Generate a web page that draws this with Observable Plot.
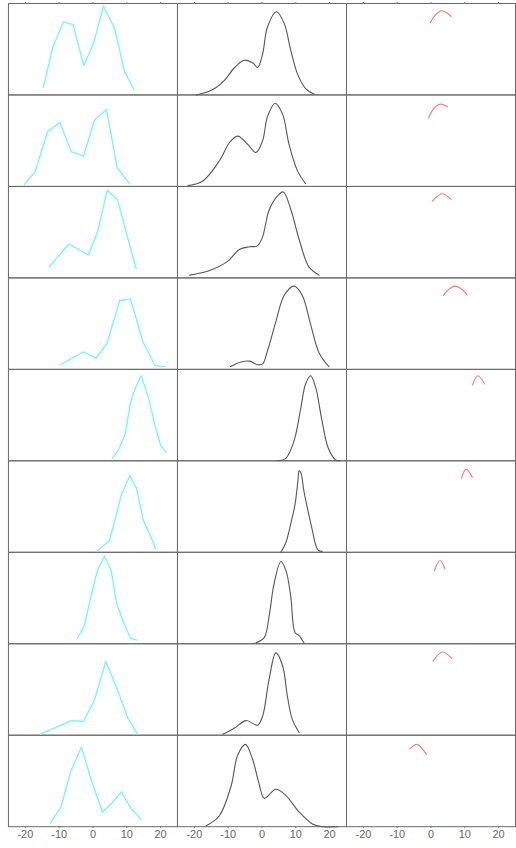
<!DOCTYPE html>
<html>
<head>
<meta charset="utf-8">
<script src="https://cdn.jsdelivr.net/npm/d3@7"></script>
<script src="https://cdn.jsdelivr.net/npm/@observablehq/plot@0.6"></script>
<style>
  html, body { margin: 0; padding: 0; background: #fff; overflow: hidden; }
  #chart svg { display: block; }
</style>
</head>
<body>
<div id="chart"></div>
<script>
// Panel columns and rows
const columns = ["polygon", "density", "arc"];
const rowIds = [1, 2, 3, 4, 5, 6, 7, 8, 9];
const tickValues = [-20, -10, 0, 10, 20];
const tickLabels = ["-20", "-10", "0", "10", "20"];

// Column 1: frequency polygons (x, relative height) per row
const polygonSeries = [
  [[-14.7,8],[-11.9,52],[-8.7,80],[-5.9,77],[-2.7,32],[0.3,58],[3.1,97],[6.4,73],[9.3,26],[12.1,6]],
  [[-20.3,2],[-17.1,16],[-13.4,60],[-9.8,70],[-6.4,38],[-2.8,33],[0.5,73],[4.0,84],[7.2,20],[10.8,3]],
  [[-13.0,12],[-7.1,37],[-1.3,25],[1.5,52],[4.2,96],[7.3,85],[10.2,45],[12.8,10]],
  [[-9.7,5],[-2.8,19],[1.0,12],[4.2,29],[7.9,75],[11.1,77],[14.7,31],[18.4,4],[21.2,3]],
  [[5.7,3],[7.6,12],[9.6,30],[11.1,64],[12.6,80],[14.3,93],[16.5,68],[18.4,38],[20.1,16],[21.7,9]],
  [[1.1,1],[4.9,13],[6.7,38],[8.4,63],[10.9,84],[12.9,70],[14.8,36],[16.8,20],[18.5,4]],
  [[-4.6,6],[-2.6,19],[-0.7,50],[1.3,80],[3.4,96],[5.4,80],[7.0,44],[9.3,21],[11.1,6],[12.9,4]],
  [[-15.6,1],[-6.4,16],[-2.8,15],[0.5,39],[3.8,81],[7.2,50],[10.3,19],[13.2,1]],
  [[-12.6,4],[-9.5,21],[-6.6,60],[-3.4,87],[-0.5,51],[2.8,16],[5.4,25],[8.4,38],[11.1,21],[14.2,8]]
];

// Column 2: smooth density curves per row
const densitySeries = [
  [[-19.4,0],[-14.5,6],[-11.1,16],[-8.1,30],[-5.2,38],[-2.7,35],[-1.3,30],[0.2,45],[1.6,74],[4.3,91],[6.6,78],[8.5,49],[10.5,23],[12.9,7],[15.4,1]],
  [[-21.9,1],[-17.5,6],[-12.6,28],[-9.6,48],[-7.2,55],[-4.2,46],[-1.8,37],[0.2,50],[1.6,76],[3.9,91],[6.1,79],[8.0,46],[10.5,17],[12.9,3]],
  [[-21.4,3],[-15.5,8],[-10.2,18],[-6.7,31],[-3.7,34],[-1.4,35],[0.1,44],[2.1,74],[4.5,89],[6.3,94],[8.6,74],[11.0,42],[13.9,12],[16.9,3]],
  [[-9.3,3],[-6.2,8],[-3.7,9],[-1.3,5],[0.2,6],[1.6,20],[4.1,52],[6.6,81],[9.5,91],[11.9,81],[14.4,49],[16.9,18],[19.8,3]],
  [[4.6,0],[7.1,3],[9.5,22],[11.5,58],[12.9,84],[14.4,93],[15.9,80],[17.6,47],[19.6,14],[21.8,1],[23.0,0]],
  [[5.6,0],[7.1,11],[8.5,31],[9.8,53],[10.6,77],[11.0,89],[11.5,87],[12.4,67],[13.4,49],[14.9,24],[15.9,8],[16.7,2],[17.8,1]],
  [[-1.8,1],[0.7,7],[2.1,30],[3.6,66],[5.6,90],[7.1,80],[8.5,52],[9.8,12],[11.0,9],[12.4,1]],
  [[-11.6,1],[-8.1,8],[-4.7,16],[-1.3,11],[0.2,21],[2.1,61],[4.1,90],[6.1,76],[7.5,43],[9.0,17],[11.0,3]],
  [[-16.5,1],[-12.6,12],[-9.1,45],[-7.2,78],[-4.9,90],[-2.8,74],[-1.0,49],[0.7,31],[4.1,41],[7.1,34],[11.0,16],[14.9,3],[17.8,0],[22.5,0]]
];

// Column 3: short arcs near the top per row
const arcSeries = [
  [[-0.2,79],[1.2,87],[3.0,92],[4.6,90],[5.9,86]],
  [[-0.7,75],[0.8,85],[2.7,90],[4.9,87]],
  [[0.4,84],[3.3,92],[5.9,86]],
  [[3.7,81],[5.1,87],[7.0,91],[9.0,88],[10.6,82]],
  [[12.3,83],[13.8,93],[15.9,84]],
  [[9.0,81],[10.4,91],[12.2,82]],
  [[1.0,80],[2.7,91],[4.1,82]],
  [[0.6,81],[3.4,91],[6.1,84]],
  [[-6.3,85],[-4.1,90],[-1.4,79]]
];

function toTable(series, col) {
  const out = [];
  series.forEach((pts, i) => pts.forEach(([x, y]) => out.push({col, row: rowIds[i], x, y})));
  return out;
}
const polygonData = toTable(polygonSeries, "polygon");
const densityData = toTable(densitySeries, "density");
const arcData = toTable(arcSeries, "arc");

const chart = Plot.plot({
  width: 519,
  height: 848,
  marginLeft: 7,
  marginRight: 0,
  marginTop: 3,
  marginBottom: 17,
  style: {fontFamily: "'Liberation Sans', Arial, sans-serif", fontSize: "11px", background: "white"},
  x: {domain: [-25, 25], axis: null},
  y: {domain: [0, 100], axis: null},
  fx: {domain: columns, padding: 0, axis: null},
  fy: {domain: rowIds, padding: 0, axis: null},
  marks: [
    Plot.frame({stroke: "#6a6a6a", strokeWidth: 1}),
    Plot.line(polygonData, {x: "x", y: "y", fx: "col", fy: "row", stroke: "#6ff8f8", strokeWidth: 1.3}),
    Plot.line(densityData, {x: "x", y: "y", fx: "col", fy: "row", stroke: "#555", strokeWidth: 1.1, curve: "catmull-rom"}),
    Plot.line(arcData, {x: "x", y: "y", fx: "col", fy: "row", stroke: "#ff7a7a", strokeWidth: 1.2, curve: "catmull-rom"}),
    Plot.axisX(tickValues, {anchor: "bottom", tickSize: 2, tickPadding: 2, label: null,
      tickFormat: (d) => tickLabels[tickValues.indexOf(d)], stroke: "#777", fill: "#666", fontSize: 11}),
    Plot.axisX(tickValues, {anchor: "top", tickSize: 2, tickPadding: 0, label: null,
      tickFormat: () => "", stroke: "#777"})
  ]
});
document.getElementById("chart").appendChild(chart);
</script>
</body>
</html>
